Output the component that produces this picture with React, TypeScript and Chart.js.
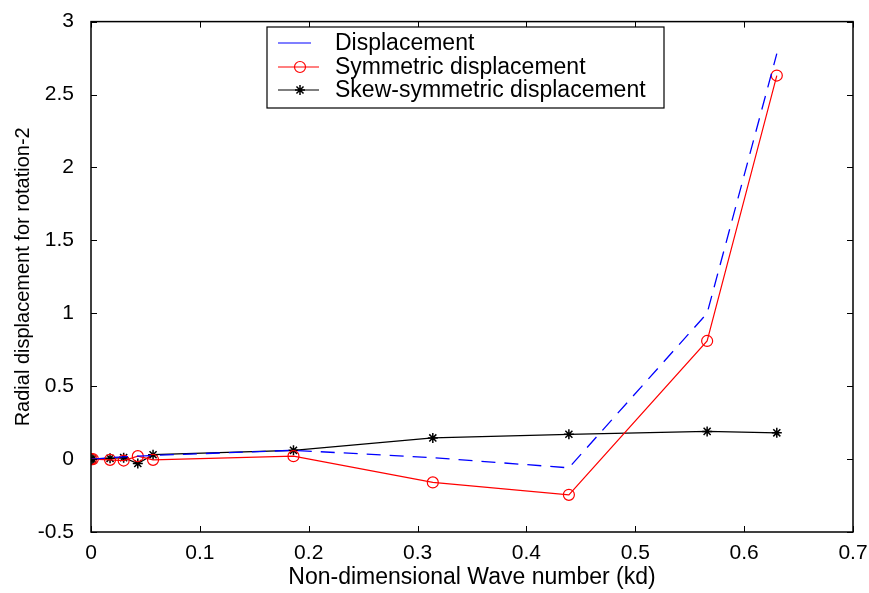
import React, { useEffect, useRef } from "react";
import { Chart, registerables } from "chart.js";
Chart.register(...registerables);

const xValues = [0, 0.0017, 0.0175, 0.030, 0.043, 0.057, 0.186, 0.314, 0.439, 0.566, 0.630];
const displacement = [0, 0.0, 0.01, 0.015, 0.02, 0.025, 0.06, 0.01, -0.06, 1.0, 2.78];
const symmetric = [0, 0, -0.005, -0.01, 0.02, -0.005, 0.02, -0.16, -0.245, 0.81, 2.63];
const skew = [0, 0, 0.005, 0.01, -0.03, 0.03, 0.06, 0.145, 0.17, 0.19, 0.18];
const seriesNames = ["Displacement", "Symmetric displacement", "Skew-symmetric displacement"];
const xTicks = [0, 0.1, 0.2, 0.3, 0.4, 0.5, 0.6, 0.7];
const yTicks = [-0.5, 0, 0.5, 1, 1.5, 2, 2.5, 3];
const xTitle = "Non-dimensional Wave number (kd)";
const yTitle = "Radial displacement for rotation-2";

const FONT = "'Liberation Sans', Arial, sans-serif";

const framePlugin = {
  id: "frame",
  afterDatasetsDraw(chart: any) {
    const { ctx, chartArea: a, scales } = chart;
    ctx.save();
    ctx.strokeStyle = "#000";
    ctx.lineWidth = 1.5;
    ctx.strokeRect(a.left, a.top, a.right - a.left, a.bottom - a.top);
    ctx.lineWidth = 1;
    const L = 6;
    ctx.beginPath();
    for (const v of xTicks) {
      const px = Math.round(scales.x.getPixelForValue(v)) + 0.5;
      ctx.moveTo(px, a.bottom); ctx.lineTo(px, a.bottom - L);
      ctx.moveTo(px, a.top); ctx.lineTo(px, a.top + L);
    }
    for (const v of yTicks) {
      const py = Math.round(scales.y.getPixelForValue(v)) + 0.5;
      ctx.moveTo(a.left, py); ctx.lineTo(a.left + L, py);
      ctx.moveTo(a.right, py); ctx.lineTo(a.right - L, py);
    }
    ctx.stroke();

    // legend
    const bx = 267, by = 27, bw = 397, bh = 81;
    ctx.fillStyle = "#fff";
    ctx.fillRect(bx, by, bw, bh);
    ctx.lineWidth = 1.2;
    ctx.strokeRect(bx, by, bw, bh);
    ctx.font = `23px ${FONT}`;
    ctx.textBaseline = "middle";
    const rows = [43, 67, 90];
    chart.data.datasets.forEach((ds: any, i: number) => {
      const y = rows[i];
      ctx.strokeStyle = ds.borderColor;
      ctx.lineWidth = 1.2;
      ctx.setLineDash([]);
      ctx.beginPath();
      ctx.moveTo(278, y); ctx.lineTo(i === 0 ? 311 : 319, y);
      ctx.stroke();
      if (i === 1) {
        ctx.beginPath();
        ctx.arc(300, y, 5.5, 0, Math.PI * 2);
        ctx.stroke();
      } else if (i === 2) {
        ctx.beginPath();
        const r = 5;
        for (let k = 0; k < 4; k++) {
          const ang = (k * Math.PI) / 4;
          ctx.moveTo(300 - r * Math.cos(ang), y - r * Math.sin(ang));
          ctx.lineTo(300 + r * Math.cos(ang), y + r * Math.sin(ang));
        }
        ctx.lineWidth = 1.5;
        ctx.stroke();
      }
      ctx.fillStyle = "#000";
      ctx.fillText(seriesNames[i], 335, y + 1);
    });
    ctx.restore();
  },
};

export default function App() {
  const ref = useRef<HTMLCanvasElement>(null);
  useEffect(() => {
    document.body.style.margin = "0";
    const toPts = (ys: number[]) => xValues.map((x, i) => ({ x, y: ys[i] }));
    const chart = new Chart(ref.current!, {
      type: "scatter",
      data: {
        datasets: [
          {
            label: seriesNames[0],
            data: toPts(displacement),
            showLine: true,
            borderColor: "#0000ff",
            borderWidth: 1.3,
            borderDash: [14, 9],
            pointRadius: 0,
            tension: 0,
          },
          {
            label: seriesNames[1],
            data: toPts(symmetric),
            showLine: true,
            borderColor: "#ff0000",
            borderWidth: 1.2,
            pointStyle: "circle",
            pointRadius: 5.5,
            pointBorderColor: "#ff0000",
            pointBackgroundColor: "rgba(0,0,0,0)",
            pointBorderWidth: 1.2,
            tension: 0,
          },
          {
            label: seriesNames[2],
            data: toPts(skew),
            showLine: true,
            borderColor: "#000000",
            borderWidth: 1.2,
            pointStyle: "star",
            pointRadius: 5,
            pointBorderColor: "#000",
            pointBorderWidth: 1.5,
            tension: 0,
          },
        ],
      },
      options: {
        animation: false,
        responsive: false,
        layout: { padding: { left: 0, right: 16, top: 17, bottom: 0 } },
        plugins: { legend: { display: false }, tooltip: { enabled: false } },
        scales: {
          x: {
            type: "linear",
            min: 0,
            max: 0.7,
            afterBuildTicks: (s: any) => { s.ticks = xTicks.map((v) => ({ value: v })); },
            afterFit: (s: any) => { s.height = 61; },
            grid: { display: false },
            border: { display: false },
            ticks: {
              color: "#000",
              font: { family: FONT, size: 21 },
              padding: 1,
              maxRotation: 0,
              callback: (v: any) => String(v),
            },
            title: {
              display: true,
              text: xTitle,
              color: "#000",
              font: { family: FONT, size: 23 },
              padding: { top: 0, bottom: 2 },
            },
          },
          y: {
            type: "linear",
            min: -0.5,
            max: 3,
            afterBuildTicks: (s: any) => { s.ticks = yTicks.map((v) => ({ value: v })); },
            afterFit: (s: any) => { s.width = 91; },
            grid: { display: false },
            border: { display: false },
            ticks: {
              color: "#000",
              font: { family: FONT, size: 21 },
              padding: 9,
              callback: (v: any) => String(v),
            },
            title: {
              display: true,
              text: yTitle,
              color: "#000",
              font: { family: FONT, size: 20 },
              padding: { top: 11, bottom: 0 },
            },
          },
        },
      },
      plugins: [framePlugin],
    });
    return () => chart.destroy();
  }, []);
  return <canvas ref={ref} width={869} height={593} style={{ display: "block" }} />;
}
